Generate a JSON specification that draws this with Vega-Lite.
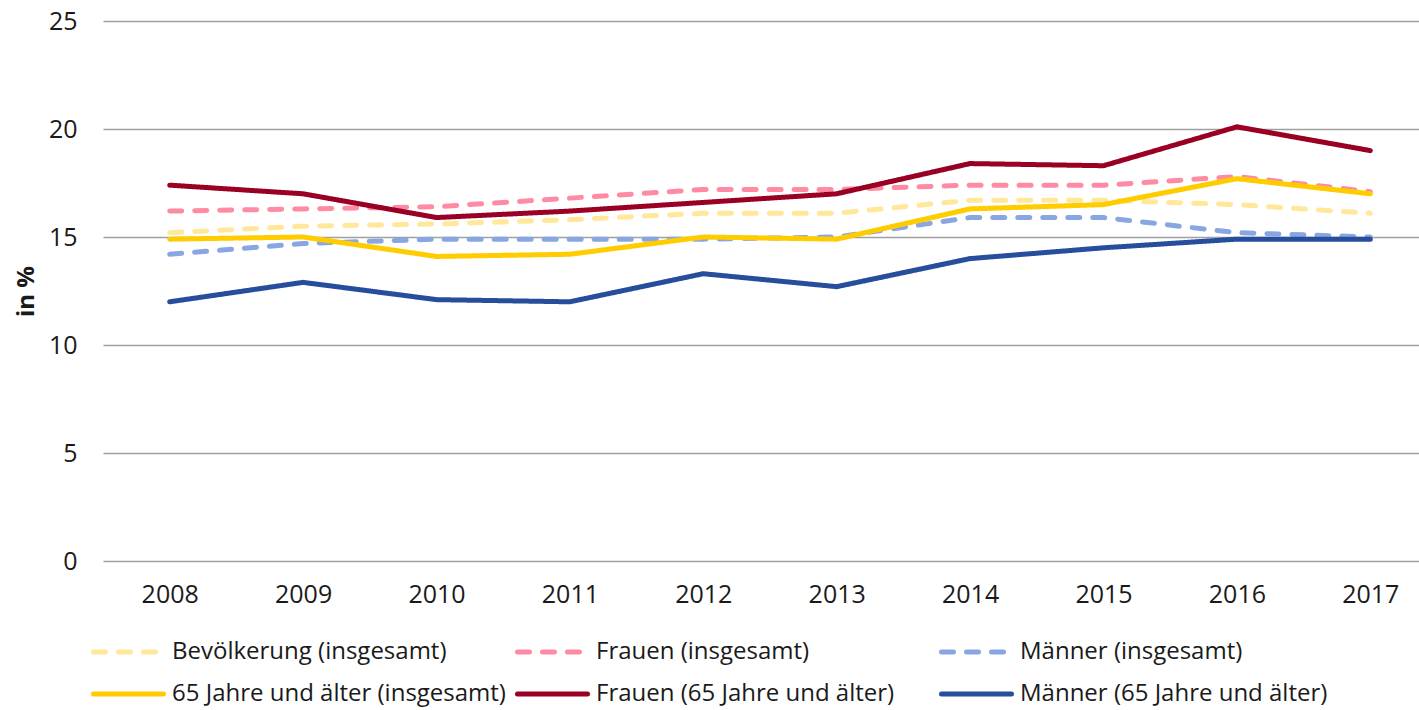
{
  "$schema": "https://vega.github.io/schema/vega-lite/v6.json",
  "width": 1316,
  "height": 540,
  "autosize": {"type": "none"},
  "padding": {"left": 103, "top": 21, "right": 0, "bottom": 149},
  "background": "white",
  "config": {
    "font": "Open Sans",
    "view": {"stroke": null}
  },
  "data": {
    "values": [
      {"Jahr": 2008, "Gruppe": "Bevölkerung (insgesamt)", "Wert": 15.2},
      {"Jahr": 2009, "Gruppe": "Bevölkerung (insgesamt)", "Wert": 15.5},
      {"Jahr": 2010, "Gruppe": "Bevölkerung (insgesamt)", "Wert": 15.6},
      {"Jahr": 2011, "Gruppe": "Bevölkerung (insgesamt)", "Wert": 15.8},
      {"Jahr": 2012, "Gruppe": "Bevölkerung (insgesamt)", "Wert": 16.1},
      {"Jahr": 2013, "Gruppe": "Bevölkerung (insgesamt)", "Wert": 16.1},
      {"Jahr": 2014, "Gruppe": "Bevölkerung (insgesamt)", "Wert": 16.7},
      {"Jahr": 2015, "Gruppe": "Bevölkerung (insgesamt)", "Wert": 16.7},
      {"Jahr": 2016, "Gruppe": "Bevölkerung (insgesamt)", "Wert": 16.5},
      {"Jahr": 2017, "Gruppe": "Bevölkerung (insgesamt)", "Wert": 16.1},
      {"Jahr": 2008, "Gruppe": "Frauen (insgesamt)", "Wert": 16.2},
      {"Jahr": 2009, "Gruppe": "Frauen (insgesamt)", "Wert": 16.3},
      {"Jahr": 2010, "Gruppe": "Frauen (insgesamt)", "Wert": 16.4},
      {"Jahr": 2011, "Gruppe": "Frauen (insgesamt)", "Wert": 16.8},
      {"Jahr": 2012, "Gruppe": "Frauen (insgesamt)", "Wert": 17.2},
      {"Jahr": 2013, "Gruppe": "Frauen (insgesamt)", "Wert": 17.2},
      {"Jahr": 2014, "Gruppe": "Frauen (insgesamt)", "Wert": 17.4},
      {"Jahr": 2015, "Gruppe": "Frauen (insgesamt)", "Wert": 17.4},
      {"Jahr": 2016, "Gruppe": "Frauen (insgesamt)", "Wert": 17.8},
      {"Jahr": 2017, "Gruppe": "Frauen (insgesamt)", "Wert": 17.1},
      {"Jahr": 2008, "Gruppe": "Männer (insgesamt)", "Wert": 14.2},
      {"Jahr": 2009, "Gruppe": "Männer (insgesamt)", "Wert": 14.7},
      {"Jahr": 2010, "Gruppe": "Männer (insgesamt)", "Wert": 14.9},
      {"Jahr": 2011, "Gruppe": "Männer (insgesamt)", "Wert": 14.9},
      {"Jahr": 2012, "Gruppe": "Männer (insgesamt)", "Wert": 14.9},
      {"Jahr": 2013, "Gruppe": "Männer (insgesamt)", "Wert": 15.0},
      {"Jahr": 2014, "Gruppe": "Männer (insgesamt)", "Wert": 15.9},
      {"Jahr": 2015, "Gruppe": "Männer (insgesamt)", "Wert": 15.9},
      {"Jahr": 2016, "Gruppe": "Männer (insgesamt)", "Wert": 15.2},
      {"Jahr": 2017, "Gruppe": "Männer (insgesamt)", "Wert": 15.0},
      {"Jahr": 2008, "Gruppe": "65 Jahre und älter (insgesamt)", "Wert": 14.9},
      {"Jahr": 2009, "Gruppe": "65 Jahre und älter (insgesamt)", "Wert": 15.0},
      {"Jahr": 2010, "Gruppe": "65 Jahre und älter (insgesamt)", "Wert": 14.1},
      {"Jahr": 2011, "Gruppe": "65 Jahre und älter (insgesamt)", "Wert": 14.2},
      {"Jahr": 2012, "Gruppe": "65 Jahre und älter (insgesamt)", "Wert": 15.0},
      {"Jahr": 2013, "Gruppe": "65 Jahre und älter (insgesamt)", "Wert": 14.9},
      {"Jahr": 2014, "Gruppe": "65 Jahre und älter (insgesamt)", "Wert": 16.3},
      {"Jahr": 2015, "Gruppe": "65 Jahre und älter (insgesamt)", "Wert": 16.5},
      {"Jahr": 2016, "Gruppe": "65 Jahre und älter (insgesamt)", "Wert": 17.7},
      {"Jahr": 2017, "Gruppe": "65 Jahre und älter (insgesamt)", "Wert": 17.0},
      {"Jahr": 2008, "Gruppe": "Frauen (65 Jahre und älter)", "Wert": 17.4},
      {"Jahr": 2009, "Gruppe": "Frauen (65 Jahre und älter)", "Wert": 17.0},
      {"Jahr": 2010, "Gruppe": "Frauen (65 Jahre und älter)", "Wert": 15.9},
      {"Jahr": 2011, "Gruppe": "Frauen (65 Jahre und älter)", "Wert": 16.2},
      {"Jahr": 2012, "Gruppe": "Frauen (65 Jahre und älter)", "Wert": 16.6},
      {"Jahr": 2013, "Gruppe": "Frauen (65 Jahre und älter)", "Wert": 17.0},
      {"Jahr": 2014, "Gruppe": "Frauen (65 Jahre und älter)", "Wert": 18.4},
      {"Jahr": 2015, "Gruppe": "Frauen (65 Jahre und älter)", "Wert": 18.3},
      {"Jahr": 2016, "Gruppe": "Frauen (65 Jahre und älter)", "Wert": 20.1},
      {"Jahr": 2017, "Gruppe": "Frauen (65 Jahre und älter)", "Wert": 19.0},
      {"Jahr": 2008, "Gruppe": "Männer (65 Jahre und älter)", "Wert": 12.0},
      {"Jahr": 2009, "Gruppe": "Männer (65 Jahre und älter)", "Wert": 12.9},
      {"Jahr": 2010, "Gruppe": "Männer (65 Jahre und älter)", "Wert": 12.1},
      {"Jahr": 2011, "Gruppe": "Männer (65 Jahre und älter)", "Wert": 12.0},
      {"Jahr": 2012, "Gruppe": "Männer (65 Jahre und älter)", "Wert": 13.3},
      {"Jahr": 2013, "Gruppe": "Männer (65 Jahre und älter)", "Wert": 12.7},
      {"Jahr": 2014, "Gruppe": "Männer (65 Jahre und älter)", "Wert": 14.0},
      {"Jahr": 2015, "Gruppe": "Männer (65 Jahre und älter)", "Wert": 14.5},
      {"Jahr": 2016, "Gruppe": "Männer (65 Jahre und älter)", "Wert": 14.9},
      {"Jahr": 2017, "Gruppe": "Männer (65 Jahre und älter)", "Wert": 14.9}
    ]
  },
  "mark": {"type": "line", "strokeWidth": 5, "strokeCap": "round", "strokeJoin": "round"},
  "encoding": {
    "x": {
      "field": "Jahr",
      "type": "quantitative",
      "scale": {"domain": [2007.5, 2017.365], "nice": false, "zero": false},
      "axis": {
        "title": null,
        "values": [2008, 2009, 2010, 2011, 2012, 2013, 2014, 2015, 2016, 2017],
        "format": "d",
        "grid": false,
        "ticks": false,
        "domain": false,
        "labelFontSize": 25,
        "labelColor": "#1a1a1a",
        "labelPadding": 21,
        "labelFlush": false,
        "labelOverlap": false
      }
    },
    "y": {
      "field": "Wert",
      "type": "quantitative",
      "scale": {"domain": [0, 25], "nice": false},
      "axis": {
        "title": "in %",
        "titleFontSize": 24,
        "titleFontWeight": "bold",
        "titleColor": "#1a1a1a",
        "titlePadding": 10,
        "values": [0, 5, 10, 15, 20, 25],
        "grid": true,
        "gridColor": "#A0A0A0",
        "gridWidth": 1.5,
        "ticks": false,
        "domain": false,
        "labelFontSize": 25,
        "labelColor": "#1a1a1a",
        "labelPadding": 26
      }
    },
    "color": {
      "field": "Gruppe",
      "type": "nominal",
      "scale": {
        "domain": ["Bevölkerung (insgesamt)", "Frauen (insgesamt)", "Männer (insgesamt)", "65 Jahre und älter (insgesamt)", "Frauen (65 Jahre und älter)", "Männer (65 Jahre und älter)"],
        "range": ["#FFE89A", "#FF8AA3", "#88A6E2", "#FFCC00", "#990024", "#274E9C"]
      },
      "legend": {
        "title": null,
        "orient": "none",
        "direction": "horizontal",
        "legendX": -12,
        "legendY": 611,
        "columns": 3,
        "gridAlign": "all",
        "columnPadding": 1,
        "rowPadding": 10,
        "symbolType": "M-1,0H3",
        "symbolStrokeWidth": 5,
        "symbolSize": 1225,
        "symbolOffset": 0,
        "labelFontSize": 24,
        "labelColor": "#1a1a1a",
        "labelOffset": 41,
        "labelLimit": 500,
        "encode": {"symbols": {"update": {"strokeCap": {"value": "round"}}}}
      }
    },
    "strokeDash": {
      "field": "Gruppe",
      "type": "nominal",
      "scale": {
        "domain": ["Bevölkerung (insgesamt)", "Frauen (insgesamt)", "Männer (insgesamt)", "65 Jahre und älter (insgesamt)", "Frauen (65 Jahre und älter)", "Männer (65 Jahre und älter)"],
        "range": [[12, 13], [12, 13], [12, 13], [1, 0], [1, 0], [1, 0]]
      },
      "legend": null
    }
  }
}
